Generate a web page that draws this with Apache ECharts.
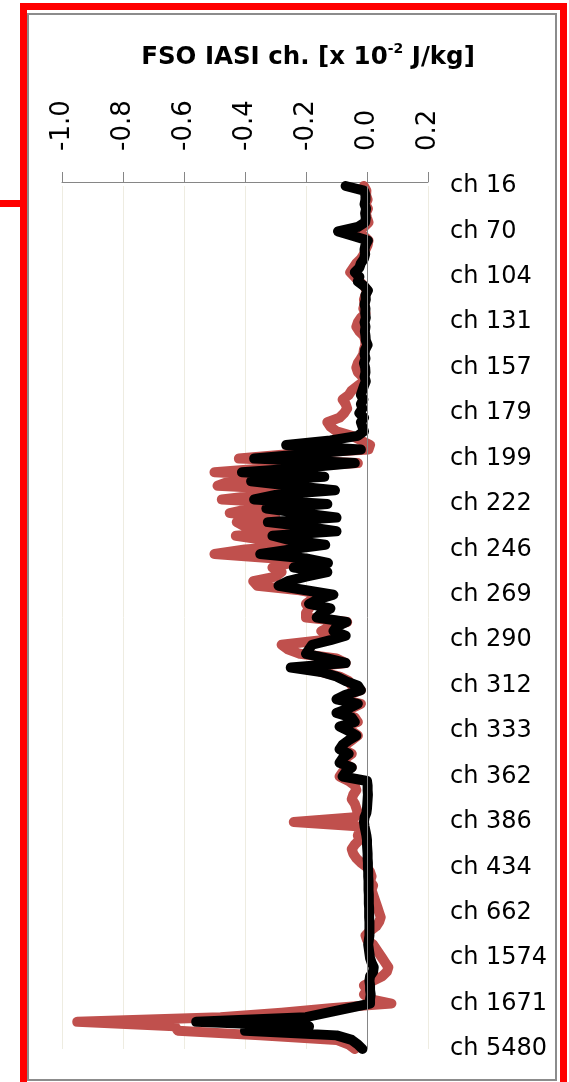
<!DOCTYPE html>
<html>
<head>
<meta charset="utf-8">
<script src="https://cdn.jsdelivr.net/npm/echarts@6/dist/echarts.min.js"></script>
<style>
  html, body { margin: 0; padding: 0; background: #ffffff; }
  #chart { width: 569px; height: 1082px; }
</style>
</head>
<body>
<div id="chart"></div>
<script>
// ---- data ----
const labeledChannels = ['ch 16','ch 70','ch 104','ch 131','ch 157','ch 179','ch 199','ch 222','ch 246','ch 269',
  'ch 290','ch 312','ch 333','ch 362','ch 386','ch 434','ch 662','ch 1574','ch 1671','ch 5480'];
const labelEvery = 10;           // one labelled channel every 10 channels
const channelCount = 191;

const xTicks = [-1.0, -0.8, -0.6, -0.4, -0.2, 0.0, 0.2];

// black series
const fsoBlack = [
  -0.07, -0.01, -0.005, -0.005, -0.008, -0.003, -0.006, -0.004, -0.006, -0.03,
  -0.095, -0.045, 0.003, -0.005, -0.008, -0.006, -0.01, -0.02, -0.025, -0.04,
  -0.025, -0.03, -0.01, 0.003, -0.005, -0.004, -0.008, -0.005, -0.006, -0.004,
  -0.008, -0.005, -0.007, -0.005, -0.004, 0.002, -0.006, -0.008, -0.005, -0.01,
  -0.006, -0.005, -0.008, -0.004, -0.01, -0.015, -0.02, -0.012, -0.02, -0.015,
  -0.025, -0.01, -0.02, -0.015, -0.01, -0.03, -0.12, -0.265, -0.02, -0.2,
  -0.37, -0.04, -0.2, -0.41, -0.14, -0.38, -0.25, -0.105, -0.3, -0.37,
  -0.13, -0.33, -0.22, -0.1, -0.325, -0.2, -0.1, -0.31, -0.25, -0.137,
  -0.25, -0.35, -0.2, -0.128, -0.24, -0.13, -0.2, -0.26, -0.29, -0.2,
  -0.11, -0.16, -0.19, -0.12, -0.15, -0.165, -0.067, -0.1, -0.11, -0.07,
  -0.12, -0.18, -0.19, -0.2, -0.13, -0.07, -0.25, -0.15, -0.1, -0.07,
  -0.03, -0.02, -0.07, -0.1, -0.03, -0.06, -0.1, -0.05, -0.04, -0.09,
  -0.06, -0.035, -0.06, -0.08, -0.09, -0.06, -0.08, -0.09, -0.05, -0.07,
  -0.08, 0.0, 0.002, 0.002, 0.003, 0.002, 0.001, 0.0, -0.002, -0.008,
  -0.01, -0.008, -0.005, -0.002, 0.0, 0.0, 0.001, 0.002, 0.002, 0.003,
  0.003, 0.004, 0.004, 0.005, 0.005, 0.005, 0.006, 0.006, 0.006, 0.007,
  0.007, 0.007, 0.008, 0.008, 0.008, 0.008, 0.006, 0.004, 0.006, 0.008,
  0.01, 0.015, 0.022, 0.02, 0.01, 0.008, 0.01, 0.01, 0.012, 0.01,
  0.01, -0.06, -0.13, -0.2, -0.56, -0.19, -0.4, -0.1, -0.05, -0.03, -0.015
];

// red series
const fsoRed = [
  -0.01, -0.002, -0.003, 0.002, -0.005, 0.003, -0.004, 0.0, 0.005, -0.01,
  -0.03, -0.01, 0.005, 0.002, -0.005, -0.01, -0.02, -0.035, -0.045, -0.055,
  -0.04, -0.025, -0.01, 0.0, -0.005, -0.01, -0.008, -0.012, -0.005, -0.02,
  -0.03, -0.035, -0.025, -0.01, -0.006, -0.005, -0.01, -0.012, -0.02, -0.03,
  -0.035, -0.03, -0.015, -0.01, -0.03, -0.05, -0.06, -0.08, -0.07, -0.065,
  -0.075, -0.09, -0.13, -0.12, -0.1, -0.05, -0.02, 0.01, 0.005, -0.25,
  -0.42, -0.03, -0.3, -0.5, -0.2, -0.45, -0.49, -0.2, -0.35, -0.476,
  -0.2, -0.38, -0.45, -0.3, -0.427, -0.4, -0.25, -0.43, -0.33, -0.2,
  -0.4, -0.5, -0.3, -0.25, -0.31, -0.28, -0.3, -0.373, -0.36, -0.22,
  -0.14, -0.18, -0.2, -0.19, -0.2, -0.2, -0.065, -0.12, -0.15, -0.1,
  -0.15, -0.28, -0.26, -0.22, -0.1, -0.07, -0.2, -0.15, -0.09, -0.06,
  -0.05, -0.02, -0.06, -0.09, -0.02, -0.05, -0.09, -0.04, -0.03, -0.08,
  -0.05, -0.03, -0.05, -0.07, -0.08, -0.05, -0.07, -0.08, -0.05, -0.08,
  -0.09, -0.06, -0.04, -0.035, -0.045, -0.05, -0.04, -0.035, -0.03, -0.04,
  -0.24, -0.02, -0.025, -0.03, -0.025, -0.04, -0.05, -0.045, -0.035, -0.02,
  0.0, 0.01, 0.015, 0.01, 0.02, 0.015, 0.02, 0.025, 0.03, 0.035,
  0.04, 0.045, 0.04, 0.03, 0.01, -0.005, 0.0, 0.02, 0.03, 0.04,
  0.05, 0.06, 0.07, 0.065, 0.05, 0.02, -0.01, 0.0, -0.01, 0.01,
  0.08, -0.12, -0.28, -0.48, -0.95, -0.63, -0.62, -0.35, -0.1, -0.06, -0.04
];

// category axis: one label every `labelEvery` channels
const categories = [];
for (let i = 0; i < channelCount; i++) {
  categories.push(i % labelEvery === 0 ? labeledChannels[i / labelEvery] : '');
}

const chart = echarts.init(document.getElementById('chart'), null, { renderer: 'canvas' });

const option = {
  animation: false,
  backgroundColor: '#ffffff',
  graphic: [
    { type: 'rect', z: 100, silent: true,
      shape: { x: 23.5, y: 6.5, width: 540, height: 1100 },
      style: { fill: 'none', stroke: '#FF0000', lineWidth: 7 } },
    { type: 'line', z: 100, silent: true,
      shape: { x1: 0, y1: 203.5, x2: 22, y2: 203.5 },
      style: { stroke: '#FF0000', lineWidth: 7 } },
    { type: 'rect', z: 99, silent: true,
      shape: { x: 28, y: 14, width: 528, height: 1066 },
      style: { fill: 'none', stroke: '#8C8C8C', lineWidth: 2 } },
    { type: 'text', z: 100, silent: true,
      style: {
        x: 308, y: 58, align: 'center', verticalAlign: 'middle',
        text: '{a|FSO IASI ch. [x 10}{s|-2}{a| J/kg]}',
        rich: {
          a: { fontFamily: 'DejaVu Sans', fontWeight: 'bold', fontSize: 24.5, lineHeight: 32, fill: '#000' },
          s: { fontFamily: 'DejaVu Sans', fontWeight: 'bold', fontSize: 14, lineHeight: 30, verticalAlign: 'top', fill: '#000' }
        }
      } }
  ],
  grid: { left: 62, right: 141, top: 186, bottom: 33, containLabel: false },
  xAxis: {
    type: 'value',
    position: 'top',
    offset: 4,
    min: xTicks[0],
    max: xTicks[xTicks.length - 1],
    interval: 0.2,
    axisLine: { show: true, onZero: false, lineStyle: { color: '#868686', width: 1 } },
    axisTick: { show: true, inside: false, length: 10, lineStyle: { color: '#868686' } },
    axisLabel: {
      rotate: -90, margin: 31, color: '#000',
      fontFamily: 'DejaVu Sans', fontSize: 26,
      formatter: v => Number(v).toFixed(1)
    },
    splitLine: { show: true, lineStyle: { color: '#EEECE1', width: 1 } }
  },
  yAxis: {
    type: 'category',
    data: categories,
    inverse: true,
    boundaryGap: false,
    position: 'right',
    axisLine: { show: false },
    axisTick: { show: false },
    splitLine: { show: false },
    axisLabel: {
      interval: labelEvery - 1, margin: 22, color: '#000',
      fontFamily: 'DejaVu Sans', fontSize: 24
    }
  },
  series: [
    {
      type: 'line', data: fsoRed, showSymbol: false, z: 2,
      lineStyle: { color: '#C0504D', width: 10, cap: 'round', join: 'round' },
      markLine: {
        silent: true, symbol: ['none', 'none'], label: { show: false },
        lineStyle: { color: '#868686', width: 1, type: 'solid' },
        data: [{ xAxis: 0 }]
      }
    },
    {
      type: 'line', data: fsoBlack, showSymbol: false, z: 3,
      lineStyle: { color: '#000000', width: 10, cap: 'round', join: 'round' }
    }
  ]
};
chart.setOption(option);
</script>
</body>
</html>
